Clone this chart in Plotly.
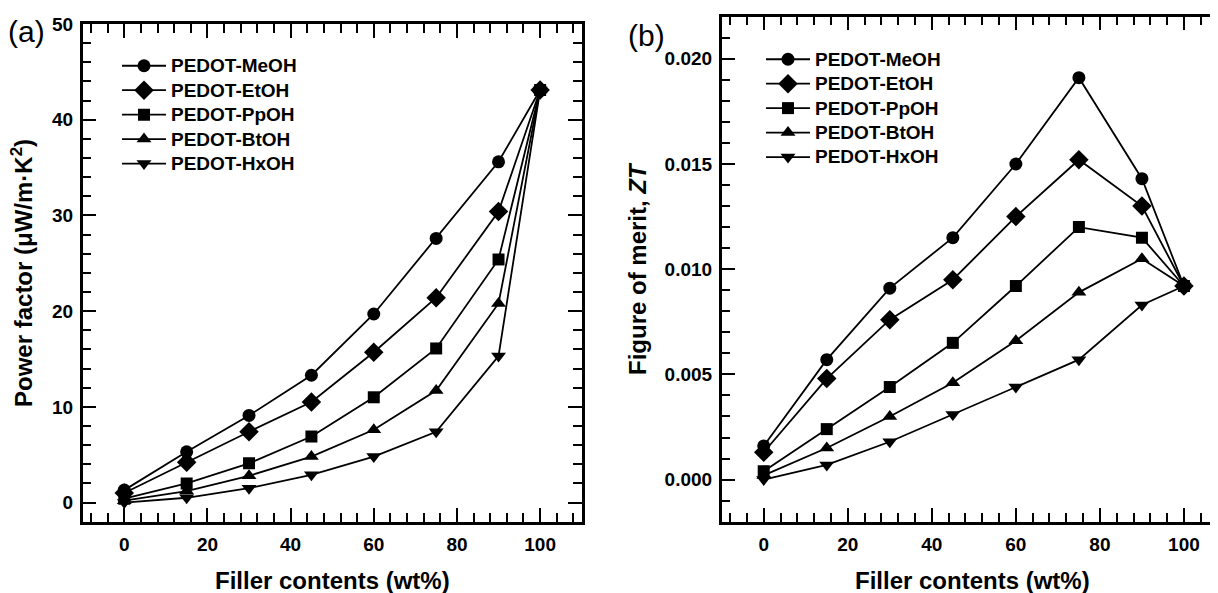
import plotly.graph_objects as go

filler = [0, 15, 30, 45, 60, 75, 90, 100]
series_names = ["PEDOT-MeOH", "PEDOT-EtOH", "PEDOT-PpOH", "PEDOT-BtOH", "PEDOT-HxOH"]

pf_meoh = [1.3, 5.3, 9.1, 13.3, 19.7, 27.6, 35.6, 43.1]
pf_etoh = [1.0, 4.2, 7.4, 10.5, 15.7, 21.4, 30.4, 43.1]
pf_ppoh = [0.4, 2.0, 4.1, 6.9, 11.0, 16.1, 25.4, 43.1]
pf_btoh = [0.2, 1.2, 2.8, 4.8, 7.6, 11.7, 20.8, 43.1]
pf_hxoh = [0.0, 0.5, 1.5, 2.9, 4.8, 7.4, 15.3, 43.1]

zt_meoh = [0.0016, 0.0057, 0.0091, 0.0115, 0.0150, 0.0191, 0.0143, 0.0092]
zt_etoh = [0.0013, 0.0048, 0.0076, 0.0095, 0.0125, 0.0152, 0.0130, 0.0092]
zt_ppoh = [0.0004, 0.0024, 0.0044, 0.0065, 0.0092, 0.0120, 0.0115, 0.0092]
zt_btoh = [0.0002, 0.0015, 0.0030, 0.0046, 0.0066, 0.0089, 0.0105, 0.0092]
zt_hxoh = [0.0000, 0.0007, 0.0018, 0.0031, 0.0044, 0.0057, 0.0083, 0.0092]

pf_series = [pf_meoh, pf_etoh, pf_ppoh, pf_btoh, pf_hxoh]
zt_series = [zt_meoh, zt_etoh, zt_ppoh, zt_btoh, zt_hxoh]

symbols = ["circle", "diamond", "square", "triangle-up", "triangle-down"]
sizes = [13, 15, 12, 13, 13]

# The page body has an 8px margin, so the figure is drawn 8px in from the
# window's top-left corner; size it to the visible area and lay it out in
# window coordinates.
OFF = 8
W, H = 1218 - OFF, 593 - OFF
FONT = "Liberation Sans, Arial, sans-serif"

fig = go.Figure()

def legend_name(n):
    return "<span style='font-size:19px'>%s</span>" % n

for i, name in enumerate(series_names):
    fig.add_trace(go.Scatter(
        x=filler, y=pf_series[i], name=legend_name(name), mode="lines+markers",
        line=dict(color="black", width=1.8),
        marker=dict(symbol=symbols[i], size=sizes[i], color="black"),
        xaxis="x", yaxis="y", legend="legend", legendgroup="a%d" % i,
    ))
for i, name in enumerate(series_names):
    fig.add_trace(go.Scatter(
        x=filler, y=zt_series[i], name=legend_name(name), mode="lines+markers",
        line=dict(color="black", width=1.8),
        marker=dict(symbol=symbols[i], size=sizes[i], color="black"),
        xaxis="x2", yaxis="y2", legend="legend2", legendgroup="b%d" % i,
    ))

def px_x(p):
    return (p - OFF) / W

def px_y(p):
    return 1 - (p - OFF) / H

tickfont = dict(family=FONT, size=19, color="black", weight="bold")
titlefont = dict(family=FONT, size=24, color="black", weight="bold")

def xaxis_cfg(domain, anchor, rmax):
    return dict(
        domain=domain, anchor=anchor, range=[-10, rmax],
        tickmode="linear", tick0=0, dtick=20, automargin=False,
        ticks="inside", ticklen=14, tickwidth=2, tickcolor="black",
        minor=dict(dtick=4, tick0=0, ticks="inside", ticklen=9, tickwidth=2, tickcolor="black"),
        showline=True, linewidth=2.5, linecolor="black", mirror="ticks",
        showgrid=False, zeroline=False, ticklabelstandoff=4,
        tickfont=tickfont,
    )

def yaxis_cfg(domain, anchor, rng, dtick, minor_dtick, fmt, mirror):
    return dict(
        domain=domain, anchor=anchor, range=rng, automargin=False,
        tickmode="linear", tick0=0, dtick=dtick, tickformat=fmt,
        ticks="inside", ticklen=14, tickwidth=2, tickcolor="black",
        minor=dict(dtick=minor_dtick, tick0=0, ticks="inside", ticklen=9, tickwidth=2, tickcolor="black"),
        showline=True, linewidth=2.5, linecolor="black", mirror=mirror,
        showgrid=False, zeroline=False, ticklabelstandoff=3,
        tickfont=tickfont,
    )

legend_common = dict(
    xanchor="left", yanchor="top", bgcolor="rgba(0,0,0,0)", borderwidth=0,
    font=dict(family=FONT, size=16.5, color="black", weight="bold"),
    tracegroupgap=0, itemwidth=44,
)

fig.update_layout(
    width=W, height=H,
    margin=dict(l=0, r=0, t=0, b=0, autoexpand=False),
    paper_bgcolor="white", plot_bgcolor="white",
    showlegend=True,
    xaxis=xaxis_cfg([px_x(82.7), px_x(581.7)], "y", 110),
    xaxis2=xaxis_cfg([px_x(721.7), 1.0], "y2", 108.1),
    yaxis=yaxis_cfg([px_y(521.7), px_y(24)], "x", [-2, 50], 10, 2, None, "ticks"),
    yaxis2=yaxis_cfg([px_y(521.7), px_y(16.7)], "x2", [-0.002, 0.022], 0.005, 0.001, ".3f", False),
    yaxis3=dict(
        overlaying="y2", side="right", anchor="x2", range=[-0.002, 0.022], automargin=False,
        tickmode="linear", tick0=0, dtick=0.005,
        ticks="inside", ticklen=14, tickwidth=2, tickcolor="black",
        minor=dict(dtick=0.001, tick0=0, ticks="inside", ticklen=9, tickwidth=2, tickcolor="black"),
        showline=False, showgrid=False, zeroline=False, showticklabels=False,
    ),
    legend=dict(x=px_x(117), y=px_y(48.5), **legend_common),
    legend2=dict(x=px_x(761), y=px_y(42), **legend_common),
    annotations=[
        dict(text="(a)", x=px_x(26.5), y=px_y(32), xref="paper", yref="paper",
             xanchor="center", yanchor="middle",
             showarrow=False, font=dict(family=FONT, size=30, color="black")),
        dict(text="(b)", x=px_x(646), y=px_y(35), xref="paper", yref="paper",
             xanchor="center", yanchor="middle",
             showarrow=False, font=dict(family=FONT, size=30, color="black")),
        dict(text="Power factor (μW/m·K<sup>2</sup>)", textangle=-90,
             x=px_x(22), y=px_y(273), xref="paper", yref="paper",
             xanchor="center", yanchor="middle", showarrow=False, font=titlefont),
        dict(text="Figure of merit, <i>ZT</i>", textangle=-90,
             x=px_x(637), y=px_y(269), xref="paper", yref="paper",
             xanchor="center", yanchor="middle", showarrow=False, font=titlefont),
        dict(text="Filler contents (wt%)",
             x=px_x(332), y=px_y(580.6), xref="paper", yref="paper",
             xanchor="center", yanchor="middle", showarrow=False, font=titlefont),
        dict(text="Filler contents (wt%)",
             x=px_x(972), y=px_y(580.6), xref="paper", yref="paper",
             xanchor="center", yanchor="middle", showarrow=False, font=titlefont),
    ],
)

fig.write_html("out.html")
